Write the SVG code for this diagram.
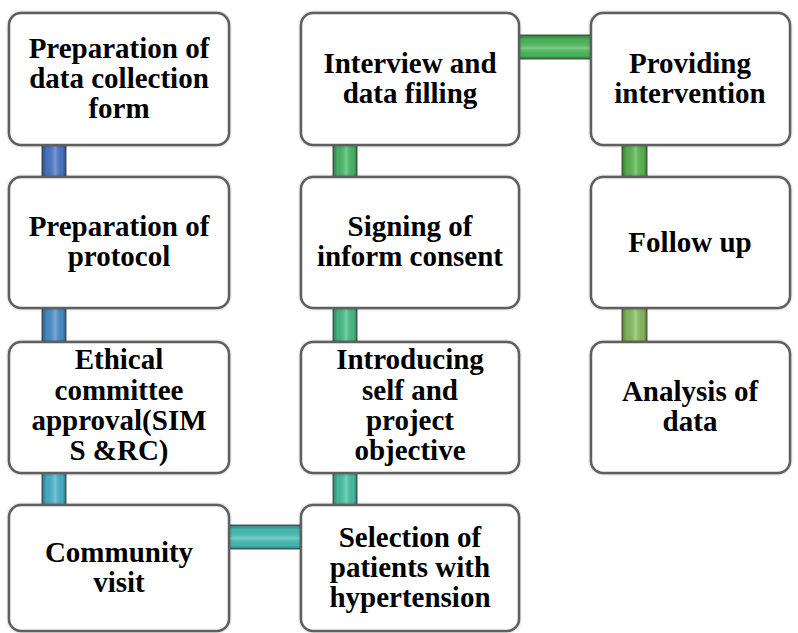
<svg xmlns="http://www.w3.org/2000/svg" width="798" height="633" viewBox="0 0 798 633">
<defs>
<linearGradient id="gv" x1="0" y1="0" x2="1" y2="0">
<stop offset="0" stop-color="#000" stop-opacity="0.35"/>
<stop offset="0.2" stop-color="#000" stop-opacity="0.05"/>
<stop offset="0.55" stop-color="#fff" stop-opacity="0.25"/>
<stop offset="0.85" stop-color="#000" stop-opacity="0.05"/>
<stop offset="1" stop-color="#000" stop-opacity="0.35"/>
</linearGradient>
<linearGradient id="gh" x1="0" y1="0" x2="0" y2="1">
<stop offset="0" stop-color="#000" stop-opacity="0.35"/>
<stop offset="0.2" stop-color="#000" stop-opacity="0.05"/>
<stop offset="0.55" stop-color="#fff" stop-opacity="0.25"/>
<stop offset="0.85" stop-color="#000" stop-opacity="0.05"/>
<stop offset="1" stop-color="#000" stop-opacity="0.35"/>
</linearGradient>
<filter id="sh" x="-5%" y="-5%" width="110%" height="110%">
<feDropShadow dx="0" dy="0" stdDeviation="1" flood-color="#000" flood-opacity="0.35"/>
</filter>
</defs>
<style>
.box{fill:#fff;stroke:#5e5e5e;stroke-width:2.5;filter:url(#sh)}
.bar{stroke:#555;stroke-width:1}
.t{font-family:"Liberation Serif","Times New Roman",serif;font-weight:bold;font-size:29px;fill:#000;text-anchor:middle}
</style>
<g id="connectors">
<rect class="bar" x="42" y="145" width="24" height="32" fill="#4a78c8"/><rect x="42" y="145" width="24" height="32" fill="url(#gv)"/>
<rect class="bar" x="42" y="308" width="24" height="34" fill="#4a90cc"/><rect x="42" y="308" width="24" height="34" fill="url(#gv)"/>
<rect class="bar" x="42" y="473" width="24" height="32" fill="#4ab4cc"/><rect x="42" y="473" width="24" height="32" fill="url(#gv)"/>
<rect class="bar" x="229" y="525" width="72" height="24" fill="#48c0b8"/><rect x="229" y="525" width="72" height="24" fill="url(#gh)"/>
<rect class="bar" x="333" y="473" width="24" height="32" fill="#48c4a4"/><rect x="333" y="473" width="24" height="32" fill="url(#gv)"/>
<rect class="bar" x="333" y="308" width="24" height="34" fill="#48c088"/><rect x="333" y="308" width="24" height="34" fill="url(#gv)"/>
<rect class="bar" x="333" y="145" width="24" height="32" fill="#48bc6c"/><rect x="333" y="145" width="24" height="32" fill="url(#gv)"/>
<rect class="bar" x="519" y="35" width="72" height="24" fill="#4cbc5c"/><rect x="519" y="35" width="72" height="24" fill="url(#gh)"/>
<rect class="bar" x="622" y="145" width="25" height="32" fill="#5cb850"/><rect x="622" y="145" width="25" height="32" fill="url(#gv)"/>
<rect class="bar" x="622" y="308" width="25" height="34" fill="#88c060"/><rect x="622" y="308" width="25" height="34" fill="url(#gv)"/>
</g>
<g id="n1"><rect class="box" x="9" y="13" width="220" height="132" rx="12"/>
<text class="t" x="119" y="58">Preparation of</text><text class="t" x="119" y="88">data collection</text><text class="t" x="119" y="118">form</text></g>
<g id="n2"><rect class="box" x="9" y="177" width="220" height="131" rx="12"/>
<text class="t" x="119" y="236">Preparation of</text><text class="t" x="119" y="266">protocol</text></g>
<g id="n3"><rect class="box" x="9" y="342" width="220" height="131" rx="12"/>
<text class="t" x="119" y="369">Ethical</text><text class="t" x="119" y="400">committee</text><text class="t" x="119" y="430">approval(SIM</text><text class="t" x="119" y="460">S &amp;RC)</text></g>
<g id="n4"><rect class="box" x="9" y="505" width="220" height="126" rx="12"/>
<text class="t" x="119" y="562">Community</text><text class="t" x="119" y="592">visit</text></g>
<g id="n5"><rect class="box" x="301" y="505" width="218" height="126" rx="12"/>
<text class="t" x="410" y="547">Selection of</text><text class="t" x="410" y="577">patients with</text><text class="t" x="410" y="607">hypertension</text></g>
<g id="n6"><rect class="box" x="301" y="342" width="218" height="131" rx="12"/>
<text class="t" x="410" y="369">Introducing</text><text class="t" x="410" y="400">self and</text><text class="t" x="410" y="430">project</text><text class="t" x="410" y="460">objective</text></g>
<g id="n7"><rect class="box" x="301" y="177" width="218" height="131" rx="12"/>
<text class="t" x="410" y="236">Signing of</text><text class="t" x="410" y="266">inform consent</text></g>
<g id="n8"><rect class="box" x="301" y="13" width="218" height="132" rx="12"/>
<text class="t" x="410" y="73">Interview and</text><text class="t" x="410" y="103">data filling</text></g>
<g id="n9"><rect class="box" x="591" y="13" width="199" height="132" rx="12"/>
<text class="t" x="690" y="73">Providing</text><text class="t" x="690" y="103">intervention</text></g>
<g id="n10"><rect class="box" x="591" y="177" width="199" height="131" rx="12"/>
<text class="t" x="690" y="252">Follow up</text></g>
<g id="n11"><rect class="box" x="591" y="342" width="199" height="131" rx="12"/>
<text class="t" x="690" y="401">Analysis of</text><text class="t" x="690" y="431">data</text></g>
</svg>
